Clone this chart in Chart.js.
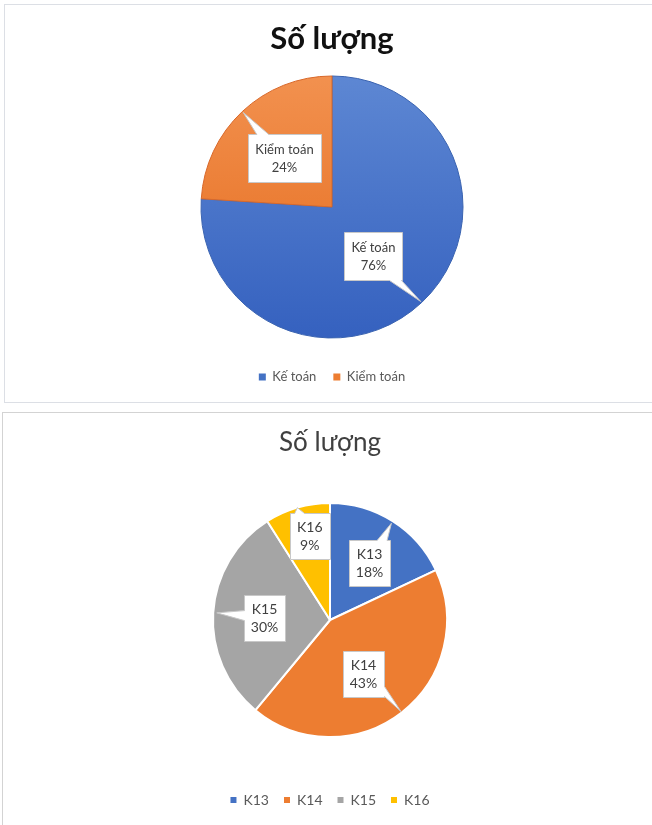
<!DOCTYPE html>
<html><head><meta charset="utf-8">
<script src="https://cdn.jsdelivr.net/npm/chart.js@4"></script>
<style>
html,body{margin:0;padding:0;background:#fff;overflow:hidden;width:652px;height:825px;}
.box{position:absolute;border:1px solid #dcdfe5;background:#fff;}
#b1{left:4px;top:4px;width:654px;height:397px;}
#b2{left:2px;top:412px;width:654px;height:412px;border-color:#d3d3d3;}
canvas{display:block;}
</style></head><body>
<div class="box" id="b1"><canvas id="c1" width="654" height="397"></canvas></div>
<div class="box" id="b2"><canvas id="c2" width="654" height="412"></canvas></div>
<script>
// ---- data ----
const chartTitle = 'Số lượng';
const majorLabels = ['Kế toán', 'Kiểm toán'];
const majorValues = [76, 24];
const cohortLabels = ['K13', 'K14', 'K15', 'K16'];
const cohortValues = [18, 43, 30, 9];

// ---- styles ----
const majorColors = ['#4472C4', '#ED7D31'];
const majorTop = ['#5D87D3', '#F2914F'];
const majorBottom = ['#3561BF', '#E4691A'];
const majorBorder = ['#3A63B0', '#D8682A'];
const cohortColors = ['#4472C4', '#ED7D31', '#A5A5A5', '#FFC000'];
const FONT = 'Lato, "Open Sans", sans-serif';

const calloutPlugin = {
  id: 'callouts',
  afterDatasetsDraw(chart, args, opts) {
    const ctx = chart.ctx;
    const meta = chart.getDatasetMeta(0);
    const data = chart.data.datasets[0].data;
    const total = data.reduce((a, b) => a + b, 0);
    ctx.save();
    ctx.font = opts.font;
    meta.data.forEach((arc, i) => {
      const p = arc.getProps(['x', 'y', 'startAngle', 'endAngle', 'outerRadius'], true);
      const mid = (p.startAngle + p.endAngle) / 2;
      const ba = mid + (opts.boxAngle[i] || 0) * Math.PI / 180;
      const br = opts.boxDist[i] * p.outerRadius;
      const cx = p.x + Math.cos(ba) * br, cy = p.y + Math.sin(ba) * br;
      const tr = opts.tipDist[i] * p.outerRadius;
      const tx = p.x + Math.cos(mid) * tr, ty = p.y + Math.sin(mid) * tr;
      const lines = [chart.data.labels[i], Math.round(data[i] / total * 100) + '%'];
      const w = Math.max(...lines.map(l => ctx.measureText(l).width)) + 2 * opts.padX;
      const h = lines.length * opts.lineH + 2 * opts.padY;
      const x0 = Math.round(cx - w / 2) + 0.5, x1 = Math.round(cx + w / 2) + 0.5;
      const y0 = Math.round(cy - h / 2) + 0.5, y1 = Math.round(cy + h / 2) + 0.5;
      const b = opts.base;
      const dx = tx - cx, dy = ty - cy, hw = w / 2, hh = h / 2;
      const inside = tx >= x0 && tx <= x1 && ty >= y0 && ty <= y1;
      let side = null, pos = 0;
      if (!inside) {
        if (Math.abs(dx) / hw > Math.abs(dy) / hh) {
          side = dx > 0 ? 'right' : 'left';
          pos = Math.min(Math.max(cy + dy * (hw / Math.abs(dx)), y0 + b + 1), y1 - b - 1);
        } else {
          side = dy > 0 ? 'bottom' : 'top';
          pos = Math.min(Math.max(cx + dx * (hh / Math.abs(dy)), x0 + b + 1), x1 - b - 1);
        }
      }
      ctx.beginPath();
      ctx.moveTo(x0, y0);
      if (side === 'top') { ctx.lineTo(pos - b, y0); ctx.lineTo(tx, ty); ctx.lineTo(pos + b, y0); }
      ctx.lineTo(x1, y0);
      if (side === 'right') { ctx.lineTo(x1, pos - b); ctx.lineTo(tx, ty); ctx.lineTo(x1, pos + b); }
      ctx.lineTo(x1, y1);
      if (side === 'bottom') { ctx.lineTo(pos + b, y1); ctx.lineTo(tx, ty); ctx.lineTo(pos - b, y1); }
      ctx.lineTo(x0, y1);
      if (side === 'left') { ctx.lineTo(x0, pos + b); ctx.lineTo(tx, ty); ctx.lineTo(x0, pos - b); }
      ctx.closePath();
      ctx.fillStyle = '#ffffff';
      ctx.fill();
      ctx.strokeStyle = opts.stroke;
      ctx.lineWidth = 1;
      ctx.stroke();
      ctx.fillStyle = opts.color;
      ctx.textAlign = 'center';
      ctx.textBaseline = 'middle';
      lines.forEach((l, k) => {
        ctx.fillText(l, cx, y0 + opts.padY + opts.lineH * (k + 0.5));
      });
    });
    ctx.restore();
  }
};

function solidLegend(colors) {
  return function (chart) {
    return chart.data.labels.map((l, i) => ({
      text: l, fillStyle: colors[i], strokeStyle: colors[i], lineWidth: 0,
      fontColor: '#595959', hidden: false, index: i
    }));
  };
}

new Chart(document.getElementById('c1'), {
  type: 'pie',
  data: {
    labels: majorLabels,
    datasets: [{
      data: majorValues,
      radius: 131,
      backgroundColor: (c) => {
        const area = c.chart.chartArea;
        const i = c.dataIndex;
        if (!area) return majorColors[i];
        const cy = (area.top + area.bottom) / 2;
        const g = c.chart.ctx.createLinearGradient(0, cy - 131, 0, cy + 131);
        g.addColorStop(0, majorTop[i]);
        g.addColorStop(1, majorBottom[i]);
        return g;
      },
      borderColor: majorBorder,
      borderWidth: 1
    }]
  },
  options: {
    responsive: false,
    animation: false,
    layout: { padding: { bottom: 8.5 } },
    plugins: {
      title: {
        display: true, text: chartTitle, color: '#111111',
        font: { family: FONT, size: 31, weight: 'bold', lineHeight: 1.2 },
        padding: { top: 15, bottom: 3.3 }
      },
      legend: {
        position: 'bottom',
        labels: {
          boxWidth: 7, boxHeight: 7, padding: 17, color: '#595959',
          font: { family: FONT, size: 13 },
          generateLabels: solidLegend(majorColors)
        }
      },
      tooltip: { enabled: false },
      callouts: {
        font: '13px ' + FONT, color: '#404040', stroke: '#c8c8c8',
        padX: 7, padY: 6, lineH: 18, base: 6,
        boxDist: [0.49, 0.52], boxAngle: [3, -1], tipDist: [0.99, 0.99]
      }
    }
  },
  plugins: [calloutPlugin]
});

new Chart(document.getElementById('c2'), {
  type: 'pie',
  data: {
    labels: cohortLabels,
    datasets: [{
      data: cohortValues,
      radius: 117,
      backgroundColor: cohortColors,
      borderColor: '#ffffff',
      borderWidth: 2
    }]
  },
  options: {
    responsive: false,
    animation: false,
    layout: { padding: { bottom: 8 } },
    plugins: {
      title: {
        display: true, text: chartTitle, color: '#404040',
        font: { family: FONT, size: 26, weight: 'normal', lineHeight: 1.2 },
        padding: { top: 14.4, bottom: 3.4 }
      },
      legend: {
        position: 'bottom',
        labels: {
          boxWidth: 6, boxHeight: 6, padding: 15, color: '#595959',
          font: { family: FONT, size: 14 },
          generateLabels: solidLegend(cohortColors)
        }
      },
      tooltip: { enabled: false },
      callouts: {
        font: '14px ' + FONT, color: '#404040', stroke: '#c8c8c8',
        padX: 7, padY: 5, lineH: 18, base: 5,
        boxDist: [0.59, 0.54, 0.56, 0.74], boxAngle: [2.6, 5.8, -1.6, 2.7], tipDist: [0.98, 0.99, 0.97, 1.0]
      }
    }
  },
  plugins: [calloutPlugin]
});
</script>
</body></html>
